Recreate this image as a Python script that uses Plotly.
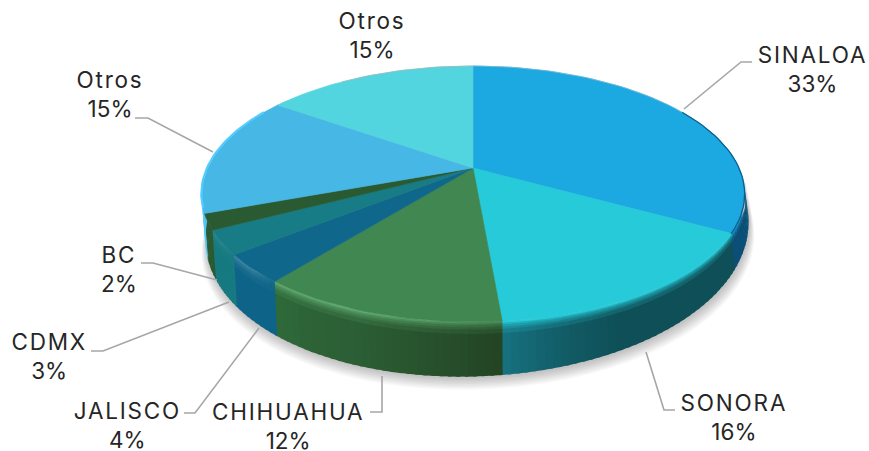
import math

import plotly.graph_objects as go

states = ["SINALOA", "SONORA", "CHIHUAHUA", "JALISCO", "CDMX", "BC", "Otros", "Otros"]
shares = [33.0, 15.6, 12.2, 3.6, 3.0, 2.0, 15.3, 15.3]

top_colors = ["#1CA9E2", "#26CAD8", "#418752", "#0F688C", "#177C85", "#2A5A31", "#47B7E5", "#52D5DE"]
side_left = ["#0B4F78", "#167280", "#2F6A3A", "#0E6488", "#167A80", "#2A5A31", "#4FC8F8", "#52D5DE"]
side_mid = ["#0B4F78", "#0F5058", "#2C5F35", "#0E6488", "#167A80", "#2A5A31", "#4FC8F8", "#52D5DE"]
side_right = ["#0A5578", "#0F5058", "#234424", "#0E6488", "#167A80", "#2A5A31", "#4FC8F8", "#52D5DE"]
rim_glow = [0.0, 0.0, 0.2, 0.1, 0.04, 0.0, 0.0, 0.0]

# label centre (first line), then the leader line
label_pos = [(812, 54), (734, 402), (288, 411), (127, 410), (49, 341), (119, 254), (110, 79), (372, 20)]
leaders = [
    [(684, 109), (741, 62), (752, 62)],
    [(646, 352), (664, 410), (675, 410)],
    [(382, 376), (382, 412), (370, 412)],
    [(259, 328), (195, 413), (184, 413)],
    [(229, 302), (103, 351), (91, 351)],
    [(217, 280), (153, 263), (141, 263)],
    [(213, 152), (148, 118), (135, 118)],
    None,
]

CX, CY = 473, 168
RX, RY = 266, 122.7
PERSP = 0.203
FONT = "Inter"


def hex_rgb(c):
    return [int(c[i : i + 2], 16) for i in (1, 3, 5)]


def mix(a, b, t):
    ra, rb = hex_rgb(a), hex_rgb(b)
    return "#%02x%02x%02x" % tuple(round(x + (y - x) * t) for x, y in zip(ra, rb))


def rim(deg):
    th = math.radians(deg)
    w = 1 + PERSP * math.cos(th)
    return CX + RX * math.sin(th) / w, CY - RY * math.cos(th) / w


def low(deg, frac=1.0):
    # lower edge: the wall is deepest towards the front left
    x, y = rim(deg)
    depth = 32 + 24 * math.cos(math.radians(deg - 200))
    sx = 4 * abs(math.sin(math.radians(deg)))
    return x + sx * frac, y + depth * frac


def arc(a, b, n):
    return [a + (b - a) * i / n for i in range(n + 1)]


def poly(pts, color, opacity=1.0, width=0):
    return go.Scatter(
        x=[p[0] for p in pts] + [pts[0][0]],
        y=[p[1] for p in pts] + [pts[0][1]],
        mode="lines",
        fill="toself",
        fillcolor=color,
        line=dict(color=color, width=width),
        opacity=opacity,
        hoverinfo="skip",
        showlegend=False,
    )


fig = go.Figure()

# soft shadow under the pie
for i in range(9):
    pts = []
    for d in arc(0, 360, 90):
        x, y = low(d) if 95 < d < 265 else rim(d)
        pts.append((CX + (x - CX) * (1 + 0.0022 * i) + 1, y + 2 + 1.4 * i))
    fig.add_trace(poly(pts, "#000000", 0.028))

total = sum(shares)
starts = []
acc = 0.0
for s in shares:
    starts.append(acc / total * 360)
    acc += s

# walls, painted right to left with each cell running under the next one
bevel = [0, 0.03, 0.06, 0.1, 0.14, 0.2]
for i, share in enumerate(shares):
    a0, a1 = starts[i], starts[i] + share / total * 360
    v0, v1 = max(a0, 92), min(a1, 268)
    if v1 <= v0:
        continue
    n = max(1, math.ceil((v1 - v0) / 1.5))
    ang = arc(v0, v1, n)
    for j in range(n):
        t = (j + 0.5) / n  # 0 at the right end of the slice, 1 at the left
        if t > 0.6:
            base = mix(side_mid[i], side_left[i], ((t - 0.6) / 0.4) ** 1.5)
        else:
            base = mix(side_right[i], side_mid[i], t / 0.6)
        d0, d1 = ang[j], ang[j + 1] + 0.6
        fig.add_trace(poly([low(d0, bevel[-1]), low(d1, bevel[-1]), low(d1), low(d0)], base))
        glow = mix(top_colors[i], "#8CE09C" if i == 2 else "#ffffff", rim_glow[i] * 2 * min(1, t * 1.6 + 0.1))
        for k in range(len(bevel) - 1):
            f = k / (len(bevel) - 1)
            c = mix(glow, base, f**0.8)
            lo = min(1, bevel[k + 1] + 0.02)
            fig.add_trace(poly([low(d0, bevel[k]), low(d1, bevel[k]), low(d1, lo), low(d0, lo)], c))

# top face
for i, share in enumerate(shares):
    a0, a1 = starts[i], starts[i] + share / total * 360
    n = max(2, math.ceil((a1 - a0) / 2))
    pts = [(CX, CY)] + [rim(d) for d in arc(a0, a1, n)]
    fig.add_trace(poly(pts, top_colors[i], width=0.6))

# thin darker edge on the far right and bright edge on the far left
for a, b, color, width in [
    (60, 119, "#0B5F8C", 1.3),
    (0, 60, "#7FB6CF", 0.7),
    (252, 300, "#55CCFF", 2.2),
    (325, 360, "#9AB8BE", 0.8),
]:
    pts = [rim(d) for d in arc(a, b, 30)]
    fig.add_trace(
        go.Scatter(
            x=[p[0] for p in pts],
            y=[p[1] for p in pts],
            mode="lines",
            line=dict(color=color, width=width),
            hoverinfo="skip",
            showlegend=False,
        )
    )

# leader lines
for line in leaders:
    if line is None:
        continue
    fig.add_trace(
        go.Scatter(
            x=[p[0] for p in line],
            y=[p[1] for p in line],
            mode="lines",
            line=dict(color="#A6A6A6", width=1.6),
            hoverinfo="skip",
            showlegend=False,
        )
    )

# labels
for name, share, (lx, ly) in zip(states, shares, label_pos):
    fig.add_annotation(
        x=lx,
        y=ly,
        xref="x",
        yref="y",
        yanchor="top",
        yshift=14,
        borderpad=0,
        text=f"{name}<br>{round(share)}%",
        showarrow=False,
        font=dict(family=FONT, size=22.5, color="#262626"),
    )

fig.update_xaxes(range=[0, 869], visible=False, fixedrange=True)
fig.update_yaxes(range=[451, 0], visible=False, fixedrange=True)
fig.update_layout(
    width=869,
    height=451,
    margin=dict(l=0, r=0, t=0, b=0),
    paper_bgcolor="white",
    plot_bgcolor="white",
)

# no page margin; the original typeface has wider capitals, so open up the name line
page_css = (
    "document.body.style.margin='0';document.body.style.overflow='hidden';"
    "var st=document.createElement('style');"
    "st.textContent='.annotation-text tspan.line:first-child{letter-spacing:1.8px}';"
    "document.head.appendChild(st);"
)
fig.write_html("out.html", config={"displayModeBar": False}, post_script=page_css)
